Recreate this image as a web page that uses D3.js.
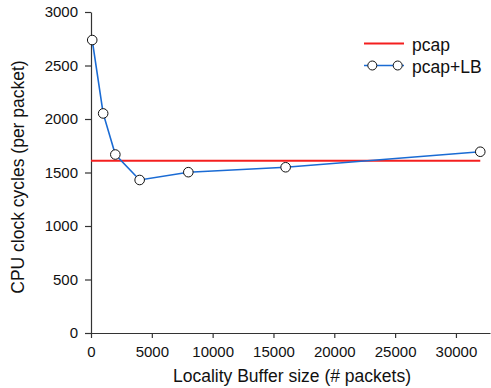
<!DOCTYPE html>
<html>
<head>
<meta charset="utf-8">
<script src="https://cdn.jsdelivr.net/npm/d3@7"></script>
<style>
  html, body { margin: 0; padding: 0; background: #fff; }
  svg { display: block; font-family: "Liberation Sans", Arial, sans-serif; }
</style>
</head>
<body>
<svg id="chart" width="491" height="388"></svg>
<script>
// Buffer sizes (packets) and measured cycles per packet
const bufferSizes = [100, 1000, 2000, 4000, 8000, 16000, 32000];
const lbCycles = [2738, 2052, 1668, 1430, 1503, 1549, 1694];
// Baseline pcap cost (constant across buffer sizes)
const pcapCycles = 1610;
const pcapSpan = [0, 32000];
const xTicks = [0, 5000, 10000, 15000, 20000, 25000, 30000];
const yTicks = [0, 500, 1000, 1500, 2000, 2500, 3000];
const seriesNames = ["pcap", "pcap+LB"];

const svg = d3.select("#chart");
const axisColor = "#333";
const textColor = "#111";

const x = d3.scaleLinear().domain([0, 32800]).range([91, 490]);
const y = d3.scaleLinear().domain([0, 3000]).range([333, 12]);

// Axes
const xAxis = svg.append("g")
  .attr("transform", `translate(0,${y(0)})`)
  .call(d3.axisBottom(x).tickValues(xTicks).tickFormat(d3.format("d")).tickSize(5).tickSizeOuter(0).tickPadding(8));
const yAxis = svg.append("g")
  .attr("transform", `translate(${x(0)},0)`)
  .call(d3.axisLeft(y).tickValues(yTicks).tickFormat(d3.format("d")).tickSize(6).tickSizeOuter(0).tickPadding(7));

[xAxis, yAxis].forEach(g => {
  g.select(".domain").attr("stroke", axisColor).attr("stroke-width", 1.2);
  g.selectAll(".tick line").attr("stroke", axisColor).attr("stroke-width", 1.2);
  g.selectAll(".tick text").attr("fill", textColor).style("font-size", "15px")
    .style("font-family", "'Liberation Sans', Arial, sans-serif");
});

// Axis titles
svg.append("text")
  .attr("x", 292).attr("y", 382)
  .attr("text-anchor", "middle")
  .attr("fill", textColor)
  .style("font-size", "17.5px")
  .text("Locality Buffer size (# packets)");
svg.append("text")
  .attr("transform", "translate(24,177) rotate(-90)")
  .attr("text-anchor", "middle")
  .attr("fill", textColor)
  .style("font-size", "17.5px")
  .text("CPU clock cycles (per packet)");

// pcap baseline
svg.append("line")
  .attr("x1", x(pcapSpan[0])).attr("x2", x(pcapSpan[1]))
  .attr("y1", y(pcapCycles)).attr("y2", y(pcapCycles))
  .attr("stroke", "#f41f1f").attr("stroke-width", 1.8);

// pcap+LB series
const pts = bufferSizes.map((b, i) => [b, lbCycles[i]]);
svg.append("path")
  .datum(pts)
  .attr("fill", "none")
  .attr("stroke", "#1a6bd4")
  .attr("stroke-width", 1.6)
  .attr("d", d3.line().x(d => x(d[0])).y(d => y(d[1])));
svg.selectAll("circle.pt")
  .data(pts)
  .join("circle")
  .attr("class", "pt")
  .attr("cx", d => x(d[0])).attr("cy", d => y(d[1]))
  .attr("r", 4.8)
  .attr("fill", "#fff").attr("stroke", "#111").attr("stroke-width", 1);

// Legend
const lg = svg.append("g");
lg.append("line").attr("x1", 364).attr("x2", 404).attr("y1", 43.5).attr("y2", 43.5)
  .attr("stroke", "#f41f1f").attr("stroke-width", 1.8);
lg.append("line").attr("x1", 364).attr("x2", 404).attr("y1", 65.5).attr("y2", 65.5)
  .attr("stroke", "#1a6bd4").attr("stroke-width", 1.6);
[372.3, 397.7].forEach(cx => lg.append("circle").attr("cx", cx).attr("cy", 65.5).attr("r", 4.5)
  .attr("fill", "#fff").attr("stroke", "#111").attr("stroke-width", 1));
seriesNames.forEach((n, i) => lg.append("text")
  .attr("x", 412).attr("y", 50.5 + i * 22.5)
  .attr("fill", textColor).style("font-size", "17.5px").text(n));
</script>
</body>
</html>
